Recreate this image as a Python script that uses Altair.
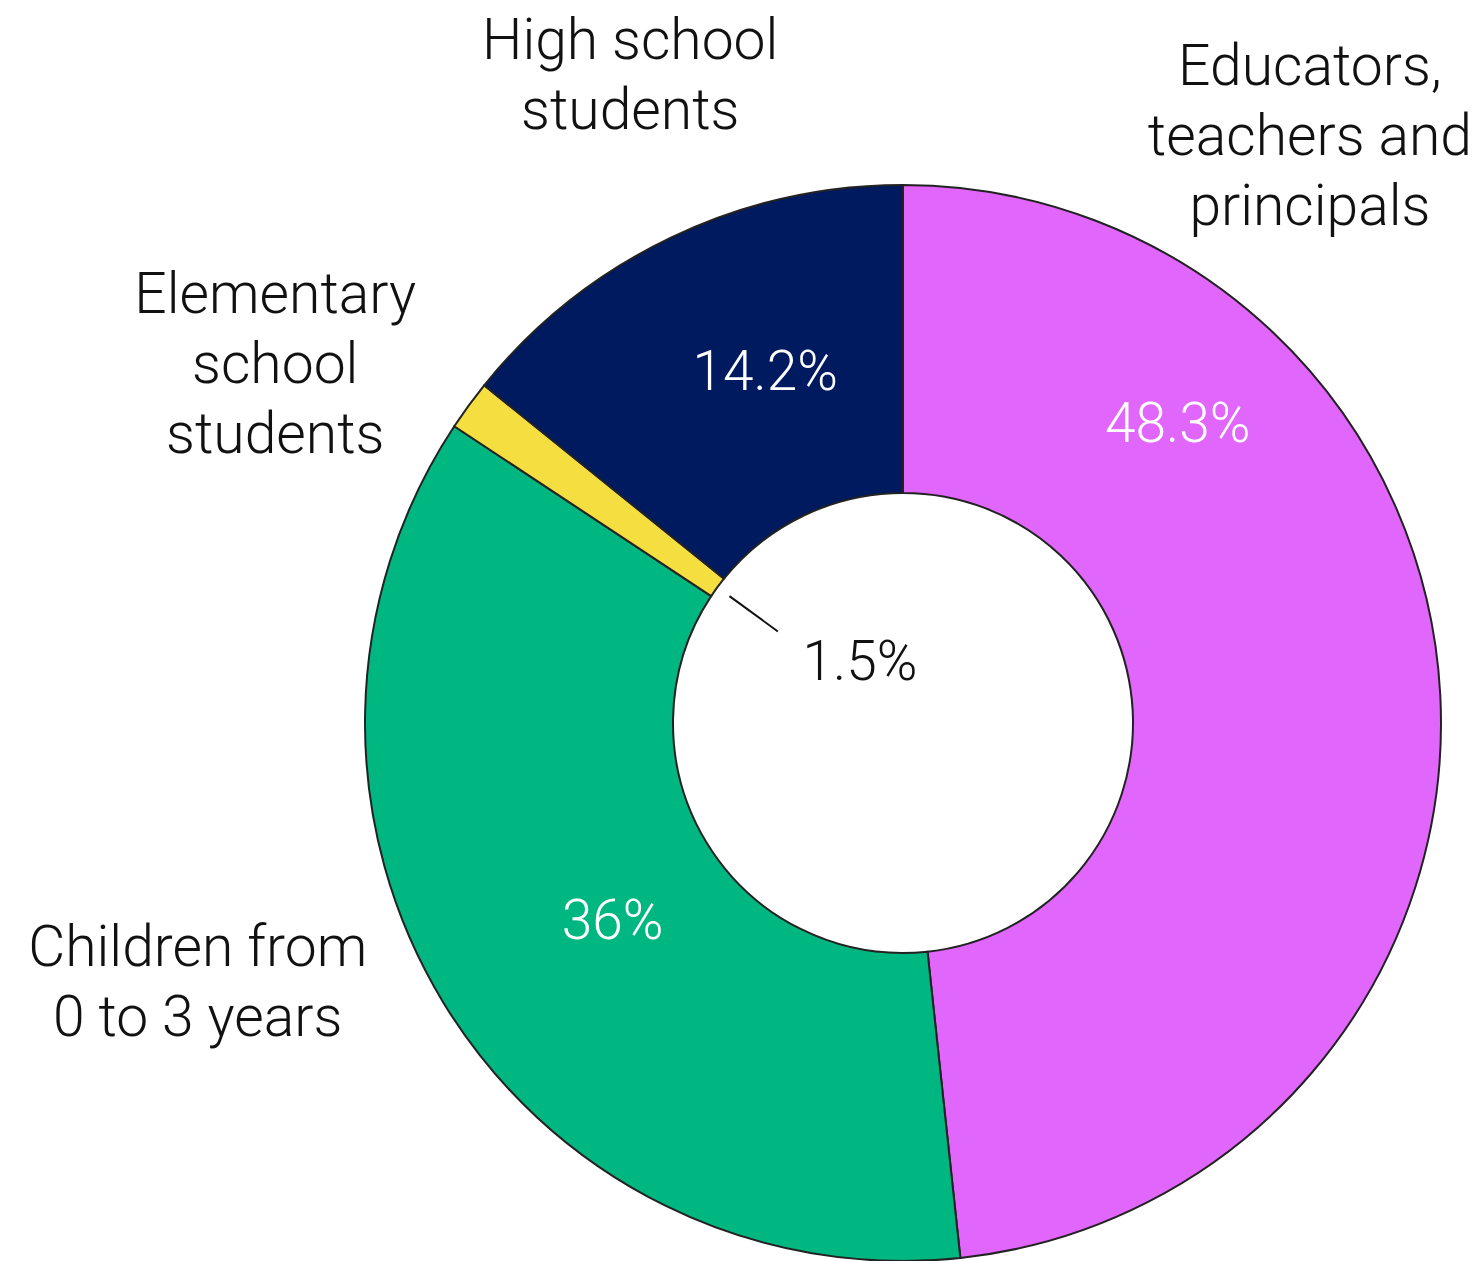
import math
import altair as alt
import pandas as pd

# ---- data ----
categories = ["Educators, teachers and principals", "Children from 0 to 3 years",
              "Elementary school students", "High school students"]
values = [48.3, 36.0, 1.5, 14.2]
colors = ["#E066FC", "#00B782", "#F5DE3F", "#001A5F"]

label_lines = ["Educators,\nteachers and\nprincipals", "Children from\n0 to 3 years",
               "Elementary\nschool\nstudents", "High school\nstudents"]

# ---- layout (label placement, polar around chart centre) ----
CX, CY = 895, 715
R_OUT, R_IN = 538, 230
label_angle = [34.8, 249.7, 299.6, 337.1]
label_radius = [713, 752, 722, 701]
pct_angle = [42.7, 235.6, 324.4, 338.5]
pct_radius = [405, 352, 74, 376]
pct_color = ["#FFFFFF", "#FFFFFF", "#111111", "#FFFFFF"]
FONT = "Roboto"
FS = 57
LH = 70

df = pd.DataFrame({
    "category": categories,
    "value": values,
    "order": list(range(len(values))),
    "label": label_lines,
    "nlines": [s.count("\n") + 1 for s in label_lines],
    "la": label_angle,
    "lr": label_radius,
    "pa": pct_angle,
    "pr": pct_radius,
    "pc": pct_color,
})
# mid-angle of each slice (degrees from 12 o'clock, clockwise)
cum = df["value"].cumsum()
df["mid"] = (cum - df["value"] / 2) / df["value"].sum() * 360

base = alt.Chart(df)

arcs = base.mark_arc(outerRadius=R_OUT, innerRadius=R_IN, stroke="#222222",
                     strokeWidth=2).encode(
    theta=alt.Theta("value:Q", stack=True),
    order=alt.Order("order:Q"),
    color=alt.Color("category:N", scale=alt.Scale(domain=categories, range=colors),
                    legend=None),
    x=alt.value(CX), y=alt.value(CY),
)

outer = base.transform_calculate(
    px=f"{CX} + datum.lr * sin(datum.la * PI / 180)",
    py=f"{CY} - datum.lr * cos(datum.la * PI / 180) - (datum.nlines - 1) * {LH / 2}",
).mark_text(font=FONT, fontSize=FS, fontWeight=300, lineBreak="\n", lineHeight=LH,
            align="center", baseline="middle", color="#111111").encode(
    x=alt.X("px:Q", scale=None), y=alt.Y("py:Q", scale=None), text="label:N")

pcts = base.transform_calculate(
    txt="datum.value + '%'",
    px=f"{CX} + datum.pr * sin(datum.pa * PI / 180)",
    py=f"{CY} - datum.pr * cos(datum.pa * PI / 180)",
).mark_text(font=FONT, fontSize=55, fontWeight=300, align="center",
            baseline="middle").encode(
    x=alt.X("px:Q", scale=None), y=alt.Y("py:Q", scale=None), text="txt:N",
    color=alt.Color("pc:N", scale=None))

leader = base.transform_filter("datum.value < 5").transform_calculate(
    x1=f"{CX} + 215 * sin(datum.mid * PI / 180)",
    y1=f"{CY} - 215 * cos(datum.mid * PI / 180)",
    x2=f"{CX} + 155 * sin(datum.mid * PI / 180)",
    y2=f"{CY} - 155 * cos(datum.mid * PI / 180)",
).mark_rule(color="#111111", strokeWidth=2).encode(
    x=alt.X("x1:Q", scale=None), y=alt.Y("y1:Q", scale=None),
    x2="x2:Q", y2="y2:Q")

chart = alt.layer(arcs, leader, outer, pcts).properties(
    width=1464, height=1253, padding=0,
    autosize=alt.AutoSizeParams(type="none"),
).configure_view(strokeWidth=0, stroke="transparent")

chart.save("out.html", embed_options={"renderer": "svg", "actions": False})
